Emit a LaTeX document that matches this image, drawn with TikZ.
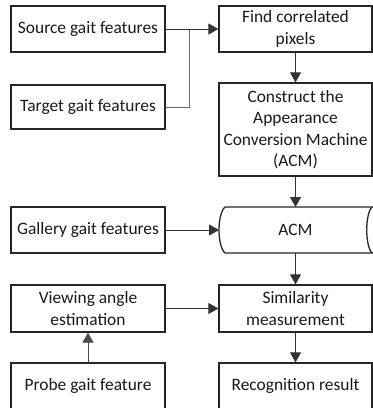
\documentclass[tikz,border=0pt]{standalone}
\usepackage{fontspec}
\setmainfont{Carlito}
\usetikzlibrary{arrows.meta}
\begin{document}
\begin{tikzpicture}[x=1pt,y=-1pt,
  box/.style={draw=black!85,line width=1.3pt,rectangle,inner sep=0pt,align=center,
    font=\fontsize{17.4}{21.5}\selectfont,text=black!90},
  lbox/.style={box,minimum width=154pt,minimum height=46pt},
  rbox/.style={box,minimum width=153pt,minimum height=46pt},
  conn/.style={draw=black!80,line width=0.8pt,-{Triangle[length=10pt,width=11pt]}},
  gconn/.style={draw=black!60,line width=0.8pt}]
\useasboundingbox (0,0) rectangle (373,408);
% left column
\node[lbox] (src) at (88,29) {Source gait features};
\node[lbox,minimum height=44pt] (tgt) at (88,107) {Target gait features};
\node[lbox] (gal) at (88,230) {Gallery gait features};
\node[lbox,minimum height=47pt] (view) at (88,308.5) {Viewing angle\\estimation};
\node[lbox] (probe) at (88,386) {Probe gait feature};
% right column
\node[rbox] (find) at (295.5,29) {Find correlated\\pixels};
\node[rbox,minimum height=93pt] (cons) at (295.5,129.5) {Construct the\\Appearance\\Conversion Machine\\(ACM)};
\node[rbox,minimum height=47pt] (sim) at (295.5,308.5) {Similarity\\measurement};
\node[rbox] (rec) at (295.5,386) {Recognition result};
% ACM stored-data shape
\coordinate (acmW) at (219,230);
\coordinate (acmN) at (295.5,207);
\coordinate (acmS) at (295.5,253);
\draw[draw=black!85,line width=1.3pt]
  (373,207) -- (225,207) .. controls (217,214) and (217,246) .. (225,253) -- (373,253);
\draw[draw=black!85,line width=1.3pt]
  (372,207) .. controls (365,214) and (365,246) .. (372,253);
\node[font=\fontsize{17.4}{21.5}\selectfont,text=black!90] (acm) at (295.5,230) {ACM};
% connectors
\coordinate (junc) at (189,29);
\draw[gconn] (tgt.east) -| (junc);
\draw[conn] (src.east) -- (find.west);
\draw[conn] (find.south) -- (cons.north);
\draw[conn] (cons.south) -- (acmN);
\draw[conn] (gal.east) -- (acmW);
\draw[conn] (acmS) -- (sim.north);
\draw[conn] (view.east) -- (sim.west);
\draw[conn,draw=black!70] (probe.north) -- (view.south);
\draw[conn] (sim.south) -- (rec.north);
\end{tikzpicture}
\end{document}
